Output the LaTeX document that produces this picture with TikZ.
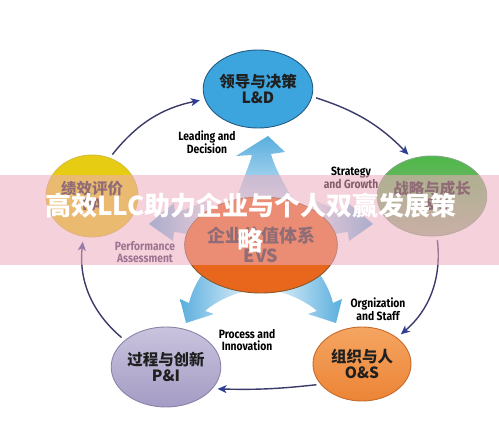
\documentclass[tikz,border=0pt]{standalone}
\usepackage{fontspec}
\usepackage{xcolor}
\usetikzlibrary{shapes.geometric,arrows.meta}
\newfontfamily\cjk{Noto Sans CJK SC}
\newfontfamily\lblfont{Fira Sans}[FakeStretch=0.86]
\definecolor{cycline}{HTML}{3B3B6B}
\definecolor{cyctip}{HTML}{2E3D96}
\definecolor{bannerpink}{RGB}{238,172,190}
\definecolor{arrowdark}{HTML}{5AAEDE}
\definecolor{arrowlight}{HTML}{DCEEF8}

\begin{document}
\begin{tikzpicture}[x=1pt,y=-1pt]
  \tikzset{phase/.style={ellipse, inner sep=0pt, align=center, line width=0.9pt,
             text=black!88, font=\cjk\bfseries\fontsize{15.5}{16.5}\selectfont},
           cyc/.style={cycline, line width=1.4pt, shorten <=4pt, shorten >=5pt,
             -{Stealth[length=9pt,width=8pt,inset=2.5pt,color=cyctip]}},
           lbl/.style={align=center, inner sep=0pt,
             font=\lblfont\bfseries\fontsize{12}{11.5}\selectfont}}
  \useasboundingbox (0,0) rectangle (499,441);
  \fill[white] (0,0) rectangle (499,441);

  % wide arrows out of the centre
  \shade[top color=arrowdark, bottom color=arrowlight]
    (232,215) .. controls (238,190) and (248,170) .. (252,155) -- (236,156) -- (268,136)
    -- (285,152) -- (271,154) .. controls (276,172) and (288,190) .. (300,212) -- cycle;
  \shade[left color=arrowdark, right color=arrowlight]
    (212,262) .. controls (200,275) and (192,290) .. (189,303) -- (180,299) -- (186,323)
    -- (214,314) -- (205,311) .. controls (215,302) and (230,295) .. (248,290) -- cycle;
  \shade[right color=arrowdark, left color=arrowlight]
    (310,262) .. controls (322,275) and (330,290) .. (333,303) -- (342,299) -- (336,323)
    -- (308,314) -- (317,311) .. controls (307,302) and (292,295) .. (274,290) -- cycle;
  \shade[left color=arrowdark, right color=arrowlight]
    (210,200) .. controls (195,205) and (185,210) .. (175,213) -- (174,203) -- (149,224)
    -- (173,241) -- (174,232) .. controls (188,233) and (200,238) .. (210,248) -- cycle;
  \shade[right color=arrowdark, left color=arrowlight]
    (312,200) .. controls (327,205) and (337,210) .. (347,213) -- (348,203) -- (373,224)
    -- (349,241) -- (348,232) .. controls (334,233) and (322,238) .. (312,248) -- cycle;

  \node[phase, minimum width=128pt, minimum height=96pt, fill={rgb,255:red,232;green,103;blue,28},
        draw=brown!70!black, font=\cjk\bfseries\fontsize{18}{20}\selectfont]
        (EVS) at (261,245) {企业价值体系\\EVS};

  \node[phase, minimum width=98pt, minimum height=78pt, fill={rgb,255:red,61;green,165;blue,221},
        draw={rgb,255:red,36;green,92;blue,134}] (LD) at (258,89) {领导与决策\\L\&D};
  \node[phase, minimum width=94pt, minimum height=80pt, top color={rgb,255:red,77;green,184;blue,73},
        bottom color={rgb,255:red,159;green,179;blue,140}, draw=green!30!black!50]
        (SG) at (432,196) {战略与成长\\S\&G};
  \node[phase, minimum width=98pt, minimum height=74pt, top color={rgb,255:red,245;green,165;blue,98},
        bottom color={rgb,255:red,236;green,132;blue,54}, draw={rgb,255:red,200;green,106;blue,42}]
        (OS) at (362,364) {组织与人\\O\&S};
  \node[phase, minimum width=96pt, minimum height=80pt, top color={rgb,255:red,201;green,195;blue,222},
        bottom color={rgb,255:red,164;green,156;blue,196}, draw={rgb,255:red,138;green,132;blue,168}]
        (PI) at (166,367) {过程与创新\\P\&I};
  \node[phase, minimum width=92pt, minimum height=82pt, fill={rgb,255:red,230;green,204;blue,18},
        draw={rgb,255:red,214;green,190;blue,60}] (PA) at (92,196) {绩效评价\\PA};

  \draw[cyc] (PA.65) to[bend left=20] (LD.191);
  \draw[cyc] (LD.-8) to[bend left=14] (SG.118);
  \draw[cyc] (SG.-83) to[bend left=28] (OS.37);
  \draw[cyc] (OS.206) to[bend left=4] (PI.-25);
  \draw[cyc] (PI.147) to[bend left=28] (PA.258);

  \node[lbl] (lblLD) at (207,142) {Leading and\\Decision};
  \node[lbl] (lblSG) at (351,178) {Strategy\\and Growth};
  \node[lbl] (lblOS) at (378,309) {Orgnization\\and Staff};
  \node[lbl] (lblPI) at (247,340) {Process and\\Innovation};
  \node[lbl, text={rgb,255:red,60;green,47;blue,92}] (lblPA) at (145,252) {Performance\\Assessment};

  % title banner
  \fill[bannerpink, opacity=0.55] (0,175) rectangle (499,265);
  \node[align=center, text=white, inner sep=0pt, font=\cjk\bfseries\fontsize{26}{35}\selectfont]
        (title) at (251,223) {高效LLC助力企业与个人双赢发展策\\略};
\end{tikzpicture}
\end{document}
